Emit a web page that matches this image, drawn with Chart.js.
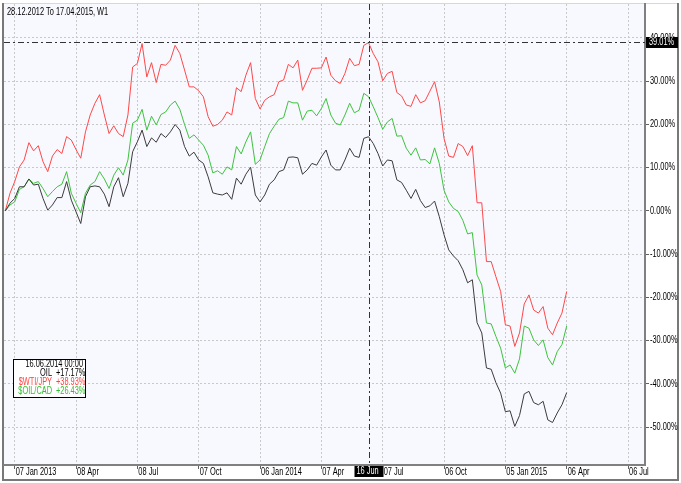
<!DOCTYPE html>
<html>
<head>
<meta charset="utf-8">
<script src="https://cdn.jsdelivr.net/npm/chart.js@4.4.1/dist/chart.umd.min.js"></script>
<style>
  html, body { margin: 0; padding: 0; background: #fff; }
  #wrap { width: 681px; height: 483px; }
</style>
</head>
<body>
<div id="wrap"><canvas id="grafico" width="681" height="483"></canvas></div>
<script>
// weekly bars, first bar = Monday 24.12.2012
const FIRST_BAR = "2012-12-24";
const periodo = "28.12.2012 To 17.04.2015, W1";

const tickFechas = ["2013-01-07", "2013-04-08", "2013-07-08", "2013-10-07", "2014-01-06", "2014-04-07",
  "2014-07-07", "2014-10-06", "2015-01-05", "2015-04-06", "2015-07-06"];
const tickEtiquetas = ["07 Jan 2013", "08 Apr", "08 Jul", "07 Oct", "06 Jan 2014", "07 Apr",
  "07 Jul", "06 Oct", "05 Jan 2015", "06 Apr", "06 Jul"];
const yTicks = [-50, -40, -30, -20, -10, 0, 10, 20, 30, 40];

const series = ["OIL", "$WTI/JPY", "$OIL/CAD"];

// % change since first bar
const oil = [0, 1.8, 2.9, 5.6, 5.6, 7.4, 6.0, 6.2, 2.9, 0.2, 1.4, 3.1, 3.1, 6.8, 2.5, -0.2, -2.9, 3.3, 5.6, 5.8,
  5.6, 3.9, 1.0, 5.6, 7.7, 3.3, 6.4, 13.7, 16.0, 18.7, 14.9, 16.9, 15.9, 17.9, 17.0, 18.3, 20.0, 18.7, 14.9, 12.7,
  13.6, 11.8, 11.0, 7.9, 4.2, 3.9, 3.7, 4.2, 2.7, 7.6, 6.2, 8.5, 10.1, 3.7, 2.1, 3.7, 6.2, 7.2, 9.1, 9.5,
  12.4, 12.5, 12.3, 8.5, 9.5, 11.0, 10.6, 12.5, 14.1, 10.6, 9.5, 9.5, 11.8, 14.5, 12.7, 12.4, 16.8, 17.17, 15.6, 13.3,
  10.4, 11.8, 11.6, 7.2, 6.6, 4.8, 2.9, 5.0, 2.4, 0.8, 1.2, 2.3, -1.3, -5.5, -9.0, -10.4, -11.5, -13.6, -16.6, -15.9,
  -25.8, -28.2, -36.3, -36.6, -39.7, -42.1, -46.4, -46.2, -49.8, -47.3, -42.3, -41.7, -44.3, -44.8, -44.0, -48.3, -48.9, -46.7, -44.8, -42.0];

const wtiJpy = [0, 4.1, 6.8, 10.2, 11.8, 15.8, 13.9, 15.1, 11.4, 9.1, 12.7, 14.2, 13.3, 17.2, 16.4, 14.2, 12.2, 18.3, 22.2, 24.9,
  26.9, 22.2, 17.9, 19.7, 17.9, 17.2, 22.2, 33.3, 34.1, 38.7, 31.0, 34.3, 29.7, 33.9, 33.7, 34.9, 38.3, 36.4, 32.6, 28.7,
  28.7, 27.8, 26.4, 21.8, 19.6, 20.0, 21.0, 22.9, 22.2, 28.5, 27.6, 31.4, 34.3, 26.0, 23.6, 25.6, 26.4, 26.9, 29.9, 30.3,
  33.9, 33.1, 34.9, 27.9, 30.3, 33.0, 33.0, 33.1, 35.6, 31.4, 30.1, 29.5, 31.8, 35.3, 33.6, 33.9, 38.3, 38.93, 36.4, 34.5,
  30.1, 31.8, 32.3, 27.4, 26.6, 24.5, 24.2, 26.9, 25.0, 25.5, 27.7, 29.9, 25.2, 16.8, 12.7, 12.4, 15.6, 14.9, 12.8, 15.1,
  1.9, 1.9, -11.7, -11.7, -15.2, -18.6, -26.3, -26.6, -31.3, -28.2, -21.5, -19.4, -22.9, -23.6, -22.1, -27.1, -28.6, -25.9, -23.6, -18.6];

const oilCad = [0, 1.4, 2.1, 5.0, 5.6, 7.4, 6.4, 6.8, 5.2, 3.3, 4.5, 5.6, 6.2, 9.1, 4.1, 1.8, -0.4, 4.1, 6.0, 6.8,
  9.1, 7.4, 5.2, 8.3, 10.0, 8.3, 11.8, 20.3, 21.0, 23.5, 18.7, 21.9, 19.9, 22.3, 22.9, 24.5, 25.4, 23.5, 20.0, 16.8,
  17.6, 16.4, 15.2, 12.9, 8.8, 9.3, 8.5, 10.2, 9.5, 14.9, 13.2, 16.0, 18.3, 10.8, 11.8, 14.9, 17.9, 19.6, 21.2, 21.6,
  25.4, 25.0, 25.0, 21.0, 23.1, 23.3, 22.0, 23.7, 26.0, 22.2, 20.3, 19.9, 22.2, 24.9, 22.7, 23.3, 27.2, 26.43, 24.1, 21.6,
  18.9, 20.6, 21.4, 17.3, 17.4, 14.5, 12.9, 14.6, 11.8, 11.9, 10.9, 14.6, 11.0, 4.8, 2.1, 0.6, -0.1, -2.2, -5.3, -5.0,
  -14.8, -17.1, -25.9, -26.1, -29.0, -31.7, -36.3, -35.6, -37.5, -34.2, -26.6, -27.1, -29.8, -31.1, -29.8, -33.9, -35.6, -32.5, -30.9, -26.6];

// crosshair
const cursorIdx = 77;
const cursorFecha = "16.06.2014 00:00";
const cursorEtiqueta = "16 Jun";
const cursorY = 39.01;

const FONT = '"Liberation Sans", Arial, sans-serif';
const colores = ["#3c3c3c", "#ff4848", "#3cc43c"];
const textoColores = ["#000", "#ff4040", "#30c030"];

const semana = 7 * 24 * 3600 * 1000;
const tickIdx = tickFechas.map(f => Math.round((Date.parse(f) - Date.parse(FIRST_BAR)) / semana));

const toXY = arr => arr.map((v, i) => ({ x: i, y: v }));

// narrow terminal-like text: 10px squeezed horizontally
function texto(ctx, str, x, y, align, color) {
  ctx.save();
  ctx.font = "10px " + FONT;
  ctx.textAlign = align;
  ctx.textBaseline = "middle";
  ctx.fillStyle = color;
  ctx.translate(x, y);
  ctx.scale(0.74, 1);
  ctx.fillText(str, 0, 0);
  ctx.restore();
}

const marco = {
  id: "marco",
  beforeDraw(chart) {
    const { ctx, chartArea: a } = chart;
    ctx.save();
    ctx.fillStyle = "#fff";
    ctx.fillRect(0, 0, chart.width, chart.height);
    ctx.fillStyle = "#f8f8ff";
    ctx.fillRect(a.left, a.top, a.right - a.left, a.bottom - a.top);
    ctx.fillStyle = "#d8d8d8";
    ctx.fillRect(2, a.top - 1, 677, 1);
    ctx.fillStyle = "#787878";
    ctx.fillRect(2, a.top - 1, 2, 481 - a.top);
    ctx.fillRect(677, a.top - 1, 2, 481 - a.top);
    ctx.fillRect(2, 479, 677, 2);
    ctx.restore();
  }
};

const cursor = {
  id: "cursor",
  afterDraw(chart) {
    const { ctx, chartArea: a } = chart;
    const xs = chart.scales.x, ys = chart.scales.y;

    // axis labels
    ys.ticks.forEach(t => {
      texto(ctx, t.value.toFixed(2) + "%", a.right + 5, ys.getPixelForValue(t.value), "left", "#000");
    });
    xs.ticks.forEach((t, i) => {
      texto(ctx, tickEtiquetas[i], xs.getPixelForValue(t.value) + 1, a.bottom + 7.5, "left", "#000");
    });

    const x = Math.round(xs.getPixelForValue(cursorIdx)) + 0.5;
    const y = Math.round(ys.getPixelForValue(cursorY)) + 0.5;
    ctx.save();
    ctx.strokeStyle = "#333";
    ctx.lineWidth = 1;
    ctx.setLineDash([6, 3, 2, 3]);
    ctx.beginPath();
    ctx.moveTo(x, a.top);
    ctx.lineTo(x, a.bottom);
    ctx.moveTo(a.left, y);
    ctx.lineTo(a.right, y);
    ctx.stroke();
    ctx.setLineDash([]);

    // value box on the right axis
    ctx.fillStyle = "#000";
    ctx.fillRect(a.right + 1, y - 5.5, 32, 11);
    texto(ctx, cursorY.toFixed(2) + "%", a.right + 4, y, "left", "#fff");
    // date box on the bottom axis
    ctx.fillStyle = "#000";
    ctx.fillRect(x - 15, a.bottom + 1, 29, 11);
    texto(ctx, cursorEtiqueta, x - 13, a.bottom + 6.5, "left", "#fff");

    // period title
    texto(ctx, periodo, 7, 12, "left", "#000");

    // data window
    ctx.fillStyle = "#fff";
    ctx.fillRect(13.5, 359.5, 72, 38);
    ctx.strokeStyle = "#000";
    ctx.strokeRect(13.5, 359.5, 72, 38);
    texto(ctx, cursorFecha, 83, 364.5, "right", "#000");
    const valores = [oil, wtiJpy, oilCad];
    series.forEach((nombre, k) => {
      const v = valores[k][cursorIdx];
      const yy = 373.5 + k * 9;
      texto(ctx, nombre, 52, yy, "right", textoColores[k]);
      texto(ctx, (v >= 0 ? "+" : "") + v.toFixed(2) + "%", 56, yy, "left", textoColores[k]);
    });
    ctx.restore();
  }
};

new Chart(document.getElementById("grafico"), {
  type: "line",
  data: {
    datasets: [
      { label: series[0], data: toXY(oil), borderColor: colores[0] },
      { label: series[1], data: toXY(wtiJpy), borderColor: colores[1] },
      { label: series[2], data: toXY(oilCad), borderColor: colores[2] }
    ]
  },
  options: {
    responsive: false,
    animation: false,
    layout: { padding: { left: 4, top: 4, right: 0, bottom: 0 } },
    elements: {
      point: { radius: 0 },
      line: { borderWidth: 1, tension: 0, fill: false }
    },
    plugins: { legend: { display: false }, tooltip: { enabled: false } },
    scales: {
      x: {
        type: "linear",
        min: -0.27,
        max: 135.6,
        afterFit: s => { s.height = 18; },
        afterBuildTicks: s => { s.ticks = tickIdx.map(v => ({ value: v })); },
        ticks: { display: false, autoSkip: false, maxRotation: 0 },
        grid: { color: "#c8c8c8", tickColor: "#606060", tickLength: 4, tickBorderDash: [4, 0] },
        border: { color: "#808080", width: 2, dash: [2, 2] }
      },
      y: {
        position: "right",
        min: -58.73,
        max: 47.86,
        afterFit: s => { s.width = 36; },
        afterBuildTicks: s => { s.ticks = yTicks.map(v => ({ value: v })); },
        ticks: { display: false },
        grid: { color: "#c8c8c8", tickColor: "#606060", tickLength: 4, tickBorderDash: [4, 0] },
        border: { color: "#808080", width: 2, dash: [2, 2] }
      }
    }
  },
  plugins: [marco, cursor]
});
</script>
</body>
</html>
